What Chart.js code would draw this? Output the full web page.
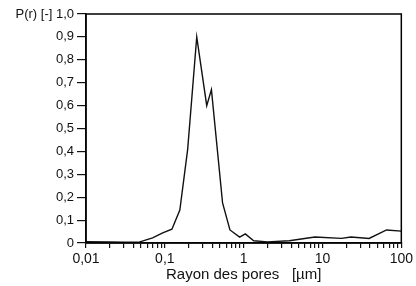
<!DOCTYPE html>
<html><head><meta charset="utf-8">
<script src="https://cdn.jsdelivr.net/npm/chart.js@4"></script>
<style>html,body{margin:0;padding:0;background:#fff}#c{display:block}</style>
</head><body>
<canvas id="c" width="416" height="286"></canvas>
<script>
const radius = [0.01, 0.02, 0.03, 0.046, 0.07, 0.094, 0.123, 0.155, 0.195, 0.254, 0.34, 0.39, 0.54, 0.67, 0.89, 1.05, 1.34, 2, 3.8, 8, 17.4, 23, 39, 65, 100];
const prob   = [0.006, 0.005, 0.004, 0.003, 0.022, 0.044, 0.06, 0.144, 0.41, 0.90, 0.60, 0.67, 0.175, 0.057, 0.026, 0.04, 0.01, 0.005, 0.01, 0.026, 0.02, 0.026, 0.02, 0.057, 0.052];
const xMajor = [0.01, 0.1, 1, 10, 100];
const xMajorLabels = ['0,01', '0,1', '1', '10', '100'];
const yLabel = 'P(r) [-]';
const xTitle = 'Rayon des pores   [µm]';

const FAMILY = 'Liberation Sans, Arial, sans-serif';

const frame = {
  id: 'frame',
  afterDraw(chart) {
    const {ctx, chartArea: a} = chart;
    ctx.save();
    ctx.strokeStyle = '#000';
    ctx.lineWidth = 1.5;
    ctx.strokeRect(a.left, a.top, a.right - a.left, a.bottom - a.top);
    ctx.restore();
  }
};

new Chart(document.getElementById('c'), {
  type: 'line',
  data: {
    datasets: [{
      data: radius.map((r, i) => ({x: r, y: prob[i]})),
      borderColor: '#111',
      borderWidth: 1.4,
      pointRadius: 0,
      tension: 0,
      fill: false
    }]
  },
  options: {
    responsive: false,
    animation: false,
    layout: {padding: {top: 14, right: 14, left: 0, bottom: 0}},
    plugins: {legend: {display: false}, tooltip: {enabled: false}},
    scales: {
      x: {
        type: 'logarithmic',
        min: 0.01, max: 100,
        afterBuildTicks(scale) {
          const t = [];
          for (let d = -2; d <= 1; d++) {
            for (let m = 1; m <= 9; m++) t.push({value: m * Math.pow(10, d)});
          }
          t.push({value: 100});
          scale.ticks = t;
        },
        afterFit(scale) { scale.height = 43; },
        ticks: {
          autoSkip: false, maxRotation: 0, padding: 3,
          color: '#111', font: {family: FAMILY, size: 14},
          callback(v) {
            const i = xMajor.findIndex(m => Math.abs(m - v) / m < 1e-6);
            return i >= 0 ? xMajorLabels[i] : '';
          }
        },
        grid: {drawOnChartArea: false, drawTicks: true, tickLength: 5, color: '#111', lineWidth: 1.2},
        border: {display: true, color: '#111', width: 1.5},
        title: {display: true, text: xTitle, color: '#111', font: {family: FAMILY, size: 15}, padding: {top: 0, bottom: 2}}
      },
      y: {
        min: 0, max: 1,
        afterFit(scale) { scale.width = 86; },
        ticks: {
          stepSize: 0.1, padding: 3, color: '#111', font: {family: FAMILY, size: 13},
          callback(v) {
            const r = Math.round(v * 10);
            if (r === 0) return '0';
            const s = (r / 10).toFixed(1).replace('.', ',');
            return r === 10 ? yLabel + ' ' + s : s;
          }
        },
        grid: {drawOnChartArea: false, drawTicks: true, tickLength: 9, color: '#111', lineWidth: 1.2},
        border: {display: true, color: '#111', width: 1.5}
      }
    }
  },
  plugins: [frame]
});
</script>
</body></html>
